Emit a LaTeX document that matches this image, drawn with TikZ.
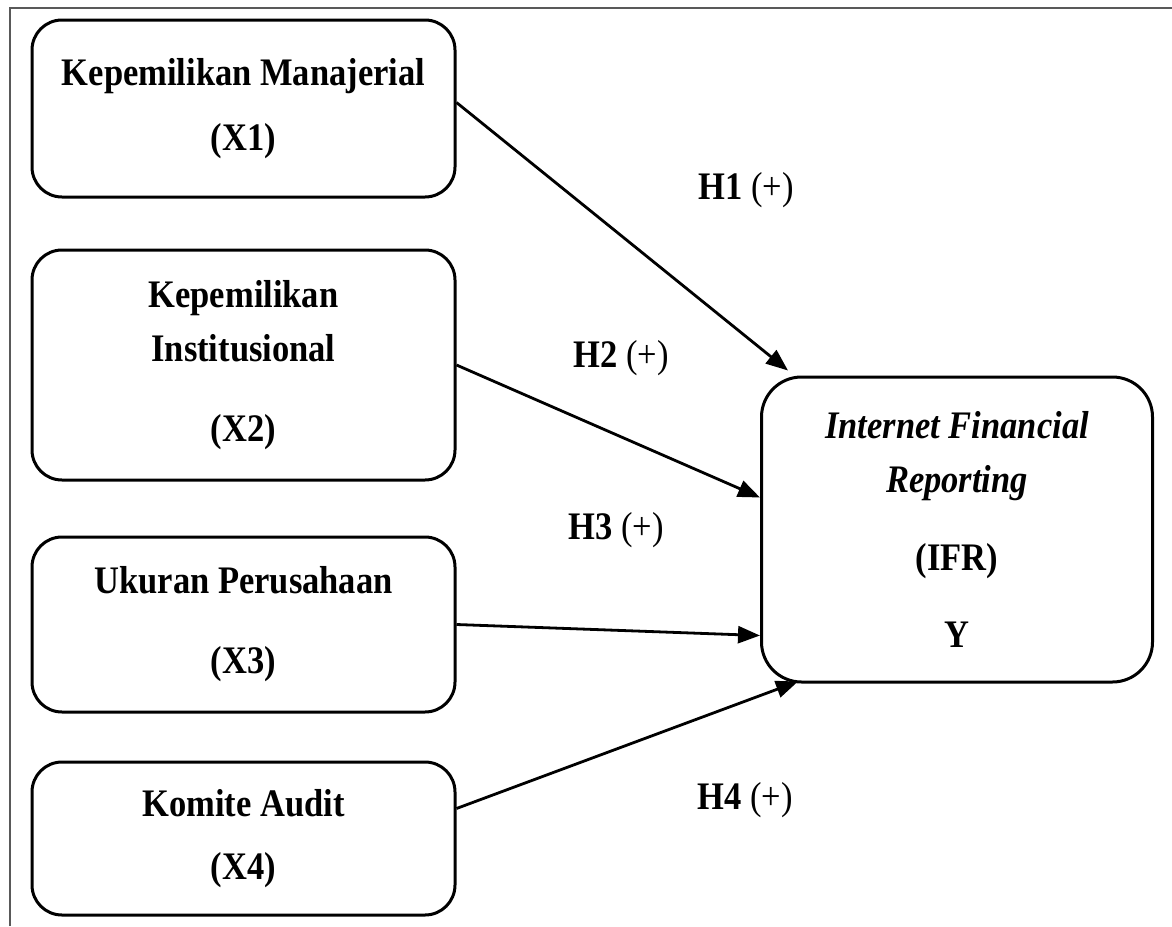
\documentclass[tikz,border=0pt]{standalone}
\usepackage{fontspec}
\setmainfont{Liberation Serif}[FakeStretch=0.885]
\usetikzlibrary{math, calc, arrows.meta}

\begin{document}
\begin{tikzpicture}[x=0.5pt, y=-0.5pt, line width=1.5pt,
    varbox/.style={draw, rounded corners=15pt, align=center, inner sep=0pt,
        minimum width=211.5pt, font=\fontsize{19.5}{27}\selectfont\bfseries},
    hyplabel/.style={font=\fontsize{19.5}{24}\selectfont},
    hyparrow/.style={line width=1.4pt, -{Triangle[length=11pt, width=8.5pt]}}]
    \tikzmath{
        \boxx=243.5;
        \ifrx=957;
        \ifry=529.5;
    }
    \useasboundingbox (0, 0) rectangle (1172, 926);

    % frame
    \draw [line width=0.8pt, black!65] (10, 926) -- (10, 8) -- (1172, 8);

    % variables
    \node [varbox, minimum height=88.5pt] (kmj) at (\boxx, 108.5)
        {Kepemilikan Manajerial\\[5.5pt](X1)};
    \node [varbox, minimum height=115pt] (kin) at (\boxx, 365)
        {Kepemilikan\\Institusional\\[13pt](X2)};
    \node [varbox, minimum height=87.5pt] (ukp) at (\boxx, 624.5)
        {Ukuran Perusahaan\\[13pt](X3)};
    \node [varbox, minimum height=76.5pt] (kma) at (\boxx, 838.5)
        {Komite Audit\\[4.5pt](X4)};
    \node [varbox, rounded corners=20pt, minimum width=195.5pt, minimum height=152.5pt] (ifr) at (\ifrx, \ifry)
        {\textit{Internet Financial}\\\textit{Reporting}\\[12pt](IFR)\\[11.5pt]Y};

    % arrows
    \coordinate (h1end) at ($ (ifr.north west) + (28, -5) $);
    \coordinate (h2end) at ($ (ifr.west) + (0, -32) $);
    \coordinate (h3end) at ($ (ifr.west) + (0, 106) $);
    \coordinate (h4end) at ($ (ifr.south west) + (38, -2) $);
    \draw [hyparrow] ($ (kmj.east) + (0, -6) $) -- (h1end);
    \draw [hyparrow] (kin.east) -- (h2end);
    \draw [hyparrow] (ukp.east) -- (h3end);
    \draw [hyparrow] ($ (kma.east) + (0, -30) $) -- (h4end);

    % labels
    \node [hyplabel] (lh1) at (746, 190) {\textbf{H1} (+)};
    \node [hyplabel] (lh2) at (621, 358) {\textbf{H2} (+)};
    \node [hyplabel] (lh3) at (616, 530) {\textbf{H3} (+)};
    \node [hyplabel] (lh4) at (745, 800) {\textbf{H4} (+)};
\end{tikzpicture}
\end{document}
